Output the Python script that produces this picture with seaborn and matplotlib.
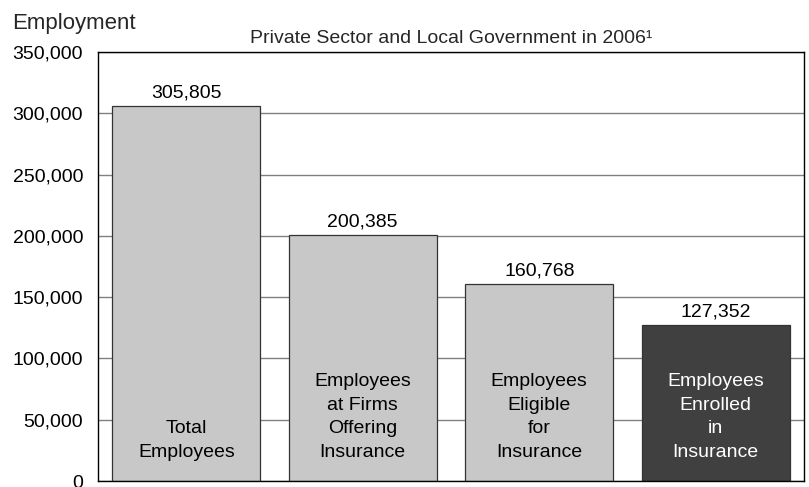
import matplotlib
matplotlib.use("Agg")
import matplotlib.pyplot as plt
import seaborn as sns
import pandas as pd
from matplotlib.ticker import FuncFormatter

# Chart data
categories = [
    "Total\nEmployees",
    "Employees\nat Firms\nOffering\nInsurance",
    "Employees\nEligible\nfor\nInsurance",
    "Employees\nEnrolled\nin\nInsurance",
]
employment = [305805, 200385, 160768, 127352]
y_ticks = [0, 50000, 100000, 150000, 200000, 250000, 300000, 350000]

# Styling
bar_colors = ["#c8c8c8", "#c8c8c8", "#c8c8c8", "#404040"]
text_colors = ["black", "black", "black", "white"]

sns.set_style("white")
plt.rcParams["font.family"] = ["Liberation Sans", "DejaVu Sans"]

df = pd.DataFrame({"category": categories, "employment": employment})

fig = plt.figure(figsize=(8.09, 4.87), dpi=100)
ax = fig.add_axes([98 / 809, 6 / 487, 706 / 809, 429 / 487])

sns.barplot(data=df, x="category", y="employment", hue="category",
            palette=bar_colors, legend=False, width=0.84,
            edgecolor="#333333", linewidth=0.9, saturation=1, ax=ax)

ax.set_ylim(0, 350000)
ax.set_yticks(y_ticks)
ax.yaxis.set_major_formatter(FuncFormatter(lambda v, _: f"{int(v):,}"))
ax.tick_params(axis="y", length=0, pad=10.8, labelsize=14, colors="black")
ax.set_xticks([])
ax.set_xlabel("")
ax.set_ylabel("")
ax.set_axisbelow(True)
ax.yaxis.grid(True, color="#808080", linewidth=1.0)
for s in ax.spines.values():
    s.set_color("black")
    s.set_linewidth(1.0)

# Value labels and in-bar labels
for i, (cat, val) in enumerate(zip(categories, employment)):
    ax.annotate(f"{val:,}", (i, val), xytext=(0, 3.5), textcoords="offset points",
                ha="center", va="bottom", fontsize=14, color="black")
    ax.annotate(cat, (i, 0), xytext=(0, 14.5), textcoords="offset points",
                ha="center", va="bottom", fontsize=14, color=text_colors[i],
                linespacing=1.5, multialignment="center")

fig.text(12 / 809, 1 - 29 / 487, "Employment", fontsize=16, va="baseline")
fig.text(451 / 809, 1 - 43 / 487, "Private Sector and Local Government in 2006\u00b9",
         fontsize=14, ha="center", va="baseline")

fig.savefig("out.png", dpi=100)
